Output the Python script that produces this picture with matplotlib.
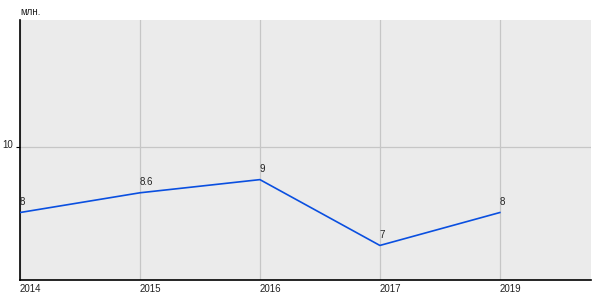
import matplotlib
matplotlib.use("Agg")
import matplotlib.pyplot as plt
import matplotlib.transforms as mtransforms

# Values
years = ["2014", "2015", "2016", "2017", "2019"]
values = [8, 8.6, 9, 7, 8]
labels = ["8", "8.6", "9", "7", "8"]
y_ticks = [10]

plt.rcParams['font.family'] = ['Liberation Sans', 'DejaVu Sans']

fig = plt.figure(figsize=(6, 3), dpi=100)
ax = fig.add_axes([20 / 600, 20 / 300, 571 / 600, 260 / 300])
ax.set_facecolor("#ebebeb")

x = list(range(len(years)))
ax.plot(x, values, color="#0a4fe0", linewidth=1.2, zorder=3)

for xi, v, lab in zip(x, values, labels):
    ax.annotate(lab, (xi, v), xytext=(0, 4), textcoords="offset points",
                ha="left", va="bottom", fontsize=7, color="#222222")

ax.set_xlim(0, 4.76)
ax.set_ylim(5.95, 13.85)
ax.set_xticks(x)
ax.set_xticklabels(years, ha="left", fontsize=7, color="#222222")
ax.set_yticks(y_ticks)
ax.set_yticklabels([str(t) for t in y_ticks], fontsize=7, color="#222222")
ax.tick_params(axis="x", length=0, pad=3)
ax.tick_params(axis="y", length=3, pad=2, width=0.8)
# nudge the y tick label up a little, as in the reference
shift = mtransforms.ScaledTranslation(0, 0.03, fig.dpi_scale_trans)
for lbl in ax.get_yticklabels():
    lbl.set_transform(lbl.get_transform() + shift)
ax.grid(True, color="#c6c6c6", linewidth=0.9)
ax.set_axisbelow(True)

for side in ["top", "right"]:
    ax.spines[side].set_visible(False)
ax.spines["left"].set_linewidth(1.2)
ax.spines["bottom"].set_linewidth(1.2)

fig.text(20 / 600, 1 - 12 / 300, "млн.", fontsize=7, color="#222222",
         ha="left", va="center")

fig.savefig("out.png", dpi=100)
